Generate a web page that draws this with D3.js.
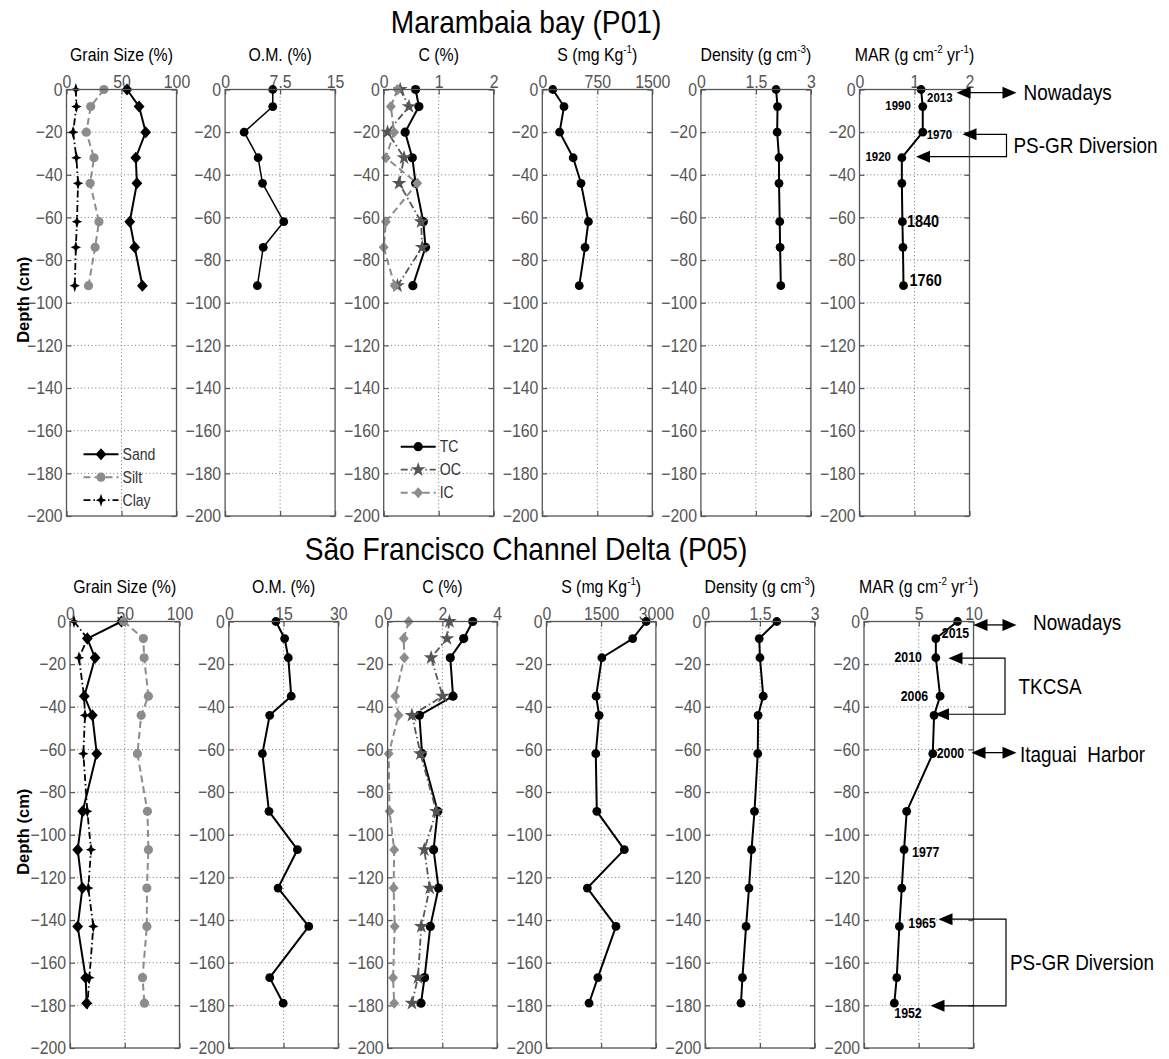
<!DOCTYPE html>
<html>
<head>
<meta charset="utf-8">
<script src="https://cdn.jsdelivr.net/npm/d3@7"></script>
<style>
  body { margin: 0; background: #fff; }
  svg { display: block; }
  text { font-family: "Liberation Sans", Arial, Helvetica, sans-serif; }
</style>
</head>
<body>
<svg id="fig" width="1169" height="1059"></svg>
<script>
// ---------------- data ----------------
const depthTicks = [0, -20, -40, -60, -80, -100, -120, -140, -160, -180, -200];

// Marambaia bay (P01)
const p01Depth   = [0, -8, -20, -32, -44, -62, -74, -92];
const p01Sand    = [55, 66, 72, 63, 64, 57.5, 62, 69];
const p01Silt    = [34, 22, 18, 25, 21.5, 29.5, 26, 20];
const p01Clay    = [8.5, 9, 6, 9, 10.5, 9.5, 8.5, 7.5];
const p01OM      = [6.5, 6.5, 2.6, 4.5, 5.1, 8.0, 5.2, 4.4];
const p01TC      = [0.58, 0.64, 0.39, 0.52, 0.58, 0.72, 0.76, 0.53];
const p01OC      = [0.30, 0.46, 0.07, 0.37, 0.28, 0.68, 0.70, 0.25];
const p01IC      = [0.25, 0.13, 0.19, 0.04, 0.61, 0.04, 0.00, 0.20];
const p01S       = [143, 296, 236, 421, 528, 629, 583, 504];
const p01Density = [2.05, 2.09, 2.08, 2.13, 2.13, 2.15, 2.16, 2.18];
const p01MAR     = [1.12, 1.15, 1.15, 0.77, 0.77, 0.78, 0.79, 0.80];
const p01Years   = ["2013", "1990", "1970", "1920", "1840", "1760"];
const p01YearAt  = [0, 1, 2, 3, 5, 7];

// São Francisco Channel Delta (P05)
const p05Depth   = [0, -8, -17, -35, -44, -62, -89, -107, -125, -143, -167, -179];
const p05Sand    = [47, 15.8, 22.9, 13.1, 20.4, 24.4, 11.6, 7, 11.3, 7, 14.3, 15.2];
const p05Silt    = [49, 67, 67.7, 71.6, 65, 61.6, 70.7, 71.6, 70.2, 70.2, 66.2, 68];
const p05Clay    = [3.7, 16, 8.2, 12.8, 13.7, 12.2, 15.8, 19.2, 16.7, 21.3, 17.7, 16];
const p05OM      = [12.9, 15.3, 16.3, 17.1, 11.2, 9.2, 11.0, 18.8, 13.5, 21.9, 11.2, 14.9];
const p05TC      = [3.11, 2.78, 2.29, 2.39, 1.16, 1.26, 1.83, 1.68, 1.86, 1.56, 1.35, 1.22];
const p05OC      = [2.26, 2.17, 1.59, 2.01, 0.89, 1.20, 1.78, 1.34, 1.54, 1.23, 1.11, 0.89];
const p05IC      = [0.77, 0.59, 0.61, 0.28, 0.40, 0.04, 0.07, 0.24, 0.22, 0.26, 0.20, 0.24];
const p05S       = [2735, 2365, 1519, 1362, 1445, 1353, 1381, 2135, 1122, 1906, 1409, 1168];
const p05Density = [1.96, 1.48, 1.50, 1.59, 1.45, 1.44, 1.35, 1.27, 1.20, 1.12, 1.02, 0.98];
const p05MAR     = [8.54, 6.56, 6.56, 6.95, 6.40, 6.28, 3.90, 3.66, 3.45, 3.23, 2.99, 2.77];
const p05Years   = ["2015", "2010", "2006", "2000", "1977", "1965", "1952"];
const p05YearAt  = [1, 2, 3, 5, 7, 9, 11];

// x-axis tick labels of each panel
const p01XTicks = [["0", "50", "100"], ["0", "7.5", "15"], ["0", "1", "2"],
                   ["0", "750", "1500"], ["0", "1.5", "3"], ["0", "1", "2"]];
const p05XTicks = [["0", "50", "100"], ["0", "15", "30"], ["0", "2", "4"],
                   ["0", "1500", "3000"], ["0", "1.5", "3"], ["0", "5", "10"]];

// panel titles (text pieces, "sup" marks a superscript)
const panelTitles = [
  [["Grain Size (%)"]],
  [["O.M. (%)"]],
  [["C (%)"]],
  [["S (mg Kg"], ["-1", "sup"], [")"]],
  [["Density (g cm"], ["-3", "sup"], [")"]],
  [["MAR (g cm"], ["-2", "sup"], [" yr"], ["-1", "sup"], [")"]]
];

// ---------------- layout / styles ----------------
const SX = 0.88;               // horizontal squeeze of the lettering
const svg = d3.select("#fig");

const rows = {
  p01: { left: 66.5, step: 158.6, width: 110, top: 89.5, bottom: 516, titleY: 33, panelTitleY: 61 },
  p05: { left: 70, step: 158.8, width: 109.5, top: 621.5, bottom: 1048, titleY: 560, panelTitleY: 593 }
};

const styles = {
  sand:  { stroke: "#000", width: 2,   dash: null,          marker: "diamond", fill: "#000", ms: 6 },
  silt:  { stroke: "#8c8c8c", width: 2, dash: "7,4",        marker: "dot",     fill: "#8c8c8c", ms: 4.6 },
  clay:  { stroke: "#000", width: 1.8, dash: "7,3,1.5,3",   marker: "star4",   fill: "#000", ms: 6.5 },
  tc:    { stroke: "#000", width: 2,   dash: null,          marker: "dot",     fill: "#000", ms: 4.6 },
  oc:    { stroke: "#555", width: 1.8, dash: "7,3,1.5,3",   marker: "star5",   fill: "#555", ms: 6.5 },
  ic:    { stroke: "#8c8c8c", width: 2, dash: "7,4",        marker: "diamond", fill: "#8c8c8c", ms: 5.5 },
  solid: { stroke: "#000", width: 2,   dash: null,          marker: "dot",     fill: "#000", ms: 4.4 },
  thin:  { stroke: "#000", width: 1.5, dash: null,          marker: "dot",     fill: "#000", ms: 4.4 }
};

// ---------------- helpers ----------------
function label(parent, x, y, pieces, o = {}) {
  const size = o.size || 18;
  const g = parent.append("g")
    .attr("transform", `translate(${x},${y}) scale(${o.sx ?? SX},1)`);
  const t = g.append("text")
    .attr("text-anchor", o.anchor || "start")
    .attr("font-size", size)
    .attr("font-weight", o.weight || "normal")
    .attr("fill", o.fill || "#000");
  if (o.pre) t.style("white-space", "pre");
  if (typeof pieces === "string") { t.text(pieces); return t; }
  let raised = false;
  pieces.forEach(([s, kind]) => {
    const sp = t.append("tspan").text(s);
    if (kind === "sup") {
      sp.attr("font-size", size * 0.62).attr("dy", -size * 0.42);
      raised = true;
    } else if (raised) {
      sp.attr("dy", size * 0.42);
      raised = false;
    }
  });
  return t;
}

function markerPath(kind, r) {
  if (kind === "diamond") {
    return `M0,${-r}L${r * 0.9},0L0,${r}L${-r * 0.9},0Z`;
  }
  if (kind === "star4") {
    const pts = [];
    for (let i = 0; i < 8; i++) {
      const a = i * Math.PI / 4 - Math.PI / 2;
      const rr = i % 2 ? r * 0.35 : r;
      pts.push([rr * Math.cos(a) * (i % 4 === 2 ? 0.8 : 1), rr * Math.sin(a)]);
    }
    return "M" + pts.map(p => p.join(",")).join("L") + "Z";
  }
  if (kind === "star5") {
    return d3.symbol(d3.symbolStar, r * r * 1.6)();
  }
  return null;
}

function drawMarker(g, kind, cx, cy, r, fill) {
  if (kind === "dot") {
    g.append("circle").attr("cx", cx).attr("cy", cy).attr("r", r).attr("fill", fill);
  } else {
    g.append("path").attr("d", markerPath(kind, r))
      .attr("transform", `translate(${cx},${cy})`).attr("fill", fill);
  }
}

function drawSeries(g, x, y, depth, values, st) {
  const pts = depth.map((d, i) => ({ d, v: values[i] }));
  const line = d3.line().x(p => x(p.v)).y(p => y(p.d));
  g.append("path").datum(pts).attr("d", line)
    .attr("fill", "none").attr("stroke", st.stroke).attr("stroke-width", st.width)
    .attr("stroke-dasharray", st.dash).attr("stroke-linejoin", "round");
  pts.forEach(p => drawMarker(g, st.marker, x(p.v), y(p.d), st.ms, st.fill));
}

function arrowHead(g, tx, ty, dir) {
  // dir = -1 : points to the left, +1 : points to the right
  const L = 14, W = 6;
  g.append("path")
    .attr("d", `M${tx},${ty}L${tx - dir * L},${ty - W}L${tx - dir * L},${ty + W}Z`)
    .attr("fill", "#000");
}

function doubleArrow(g, xa, xb, yy) {
  g.append("line").attr("x1", xa + 10).attr("x2", xb - 10).attr("y1", yy).attr("y2", yy)
    .attr("stroke", "#000").attr("stroke-width", 1.3);
  arrowHead(g, xa, yy, -1);
  arrowHead(g, xb, yy, 1);
}

function bracket(g, xr, ya, tipA, yb, tipB) {
  g.append("path")
    .attr("d", `M${tipA + 10},${ya}H${xr}V${yb}H${tipB + 10}`)
    .attr("fill", "none").attr("stroke", "#000").attr("stroke-width", 1.2);
  arrowHead(g, tipA, ya, -1);
  arrowHead(g, tipB, yb, -1);
}

// ---------------- panels ----------------
function drawRow(rowKey, title, xTicks, series) {
  const R = rows[rowKey];
  const y = d3.scaleLinear().domain([0, -200]).range([R.top, R.bottom]);
  const layer = svg.append("g");
  const panels = [];

  label(layer, 526, R.titleY, title, { size: 32, anchor: "middle" });

  for (let c = 0; c < 6; c++) {
    const x0 = R.left + c * R.step, x1 = x0 + R.width;
    const xmax = +xTicks[c][2];
    const x = d3.scaleLinear().domain([0, xmax]).range([x0, x1]);
    const xTickVals = xTicks[c].map(Number);
    const g = layer.append("g");

    // dotted grid
    g.selectAll(".hgrid").data(depthTicks.slice(1, -1)).join("line")
      .attr("x1", x0).attr("x2", x1).attr("y1", d => y(d)).attr("y2", d => y(d))
      .attr("stroke", "#777").attr("stroke-width", 1).attr("stroke-dasharray", "1,2.6");
    g.append("line")
      .attr("x1", x(xTickVals[1])).attr("x2", x(xTickVals[1]))
      .attr("y1", R.top).attr("y2", R.bottom)
      .attr("stroke", "#777").attr("stroke-width", 1).attr("stroke-dasharray", "1,2.6");

    // axes with inward ticks
    const left = d3.axisLeft(y).tickValues(depthTicks).tickFormat(d3.format("d"))
      .tickSizeInner(-5).tickSizeOuter(0).tickPadding(4.5);
    const right = d3.axisRight(y).tickValues(depthTicks).tickFormat("")
      .tickSizeInner(-5).tickSizeOuter(0);
    const top = d3.axisTop(x).tickValues(xTickVals).tickFormat((d, i) => xTicks[c][i])
      .tickSizeInner(-5).tickSizeOuter(0).tickPadding(2);
    const bottom = d3.axisBottom(x).tickValues(xTickVals).tickFormat("")
      .tickSizeInner(-5).tickSizeOuter(0);

    const axL = g.append("g").attr("transform", `translate(${x0},0)`).call(left);
    const axR = g.append("g").attr("transform", `translate(${x1},0)`).call(right);
    const axT = g.append("g").attr("transform", `translate(0,${R.top})`).call(top);
    const axB = g.append("g").attr("transform", `translate(0,${R.bottom})`).call(bottom);
    [axL, axR, axT, axB].forEach(a => {
      a.select(".domain").remove();
      a.selectAll("line").attr("stroke", "#555").attr("stroke-width", 1.2);
      a.selectAll("text")
        .attr("font-family", '"Liberation Sans", Arial, sans-serif')
        .attr("font-size", 18).attr("fill", "#555");
    });
    axL.selectAll("text").attr("transform", `scale(${SX},1)`);
    axT.selectAll("text").attr("transform", `scale(${SX},1)`);

    // panel title
    label(layer, (x0 + x1) / 2, R.panelTitleY, panelTitles[c], { size: 18, anchor: "middle" });

    panels.push({ g, x, y, x0, x1 });
  }

  // series
  series.forEach(([col, values, st]) => {
    const P = panels[col];
    drawSeries(P.g, P.x, P.y, series.depth, values, st);
  });

  // frames on top
  panels.forEach(P => {
    P.g.append("rect").attr("x", P.x0).attr("y", R.top)
      .attr("width", P.x1 - P.x0).attr("height", R.bottom - R.top)
      .attr("fill", "none").attr("stroke", "#555").attr("stroke-width", 1.3);
  });

  // depth axis title
  const gy = layer.append("g")
    .attr("transform", `translate(23,${(R.top + R.bottom) / 2 - 3}) rotate(-90)`);
  gy.append("text").attr("text-anchor", "middle").attr("dominant-baseline", "central")
    .attr("font-size", 16.5).attr("font-weight", "bold").text("Depth (cm)");

  return { panels, y, R };
}

function legend(P, R, items, firstDepth) {
  const lx0 = P.x0 + 17, lx1 = P.x0 + 52;
  items.forEach(([name, st], i) => {
    const yy = P.y(firstDepth) + i * 23;
    P.g.append("line").attr("x1", lx0).attr("x2", lx1).attr("y1", yy).attr("y2", yy)
      .attr("stroke", st.stroke).attr("stroke-width", st.width).attr("stroke-dasharray", st.dash);
    drawMarker(P.g, st.marker, (lx0 + lx1) / 2, yy, st.ms, st.fill);
    label(P.g, lx1 + 4, yy + 5.5, name, { size: 16, fill: "#333" });
  });
}

function yearLabels(P, depth, values, years, at, offsets) {
  years.forEach((yr, i) => {
    const k = at[i], o = offsets[i];
    label(P.g, P.x(values[k]) + o[0], P.y(depth[k]) + o[1], yr,
      { size: o[3], anchor: o[2], weight: "bold" });
  });
}

// ---------- Marambaia bay (P01) ----------
const s01 = [
  [0, p01Sand, styles.sand], [0, p01Silt, styles.silt], [0, p01Clay, styles.clay],
  [1, p01OM, styles.thin],
  [2, p01TC, styles.tc], [2, p01OC, styles.oc], [2, p01IC, styles.ic],
  [3, p01S, styles.solid], [4, p01Density, styles.solid], [5, p01MAR, styles.solid]
];
s01.depth = p01Depth;
const r01 = drawRow("p01", "Marambaia bay (P01)", p01XTicks, s01);
legend(r01.panels[0], r01.R, [["Sand", styles.sand], ["Silt", styles.silt], ["Clay", styles.clay]], -171);
legend(r01.panels[2], r01.R, [["TC", styles.tc], ["OC", styles.oc], ["IC", styles.ic]], -167.5);
yearLabels(r01.panels[5], p01Depth, p01MAR, p01Years, p01YearAt, [
  [6, 12, "start", 13], [-12, 3.5, "end", 13], [4, 7, "start", 13],
  [-11, 3.5, "end", 13], [4.5, 5.5, "start", 16.5], [6, 0.5, "start", 16.5]
]);

// ---------- São Francisco Channel Delta (P05) ----------
const s05 = [
  [0, p05Sand, styles.sand], [0, p05Silt, styles.silt], [0, p05Clay, styles.clay],
  [1, p05OM, styles.solid],
  [2, p05TC, styles.tc], [2, p05OC, styles.oc], [2, p05IC, styles.ic],
  [3, p05S, styles.solid], [4, p05Density, styles.solid], [5, p05MAR, styles.solid]
];
s05.depth = p05Depth;
const r05 = drawRow("p05", "São Francisco Channel Delta (P05)", p05XTicks, s05);
yearLabels(r05.panels[5], p05Depth, p05MAR, p05Years, p05YearAt, [
  [6, -1, "start", 14], [-14, 4, "end", 14], [-12, 5, "end", 14],
  [4, 4.5, "start", 14], [8, 7, "start", 14], [9, 2, "start", 14], [0, 15, "start", 14]
]);

// ---------------- annotations ----------------
const ann = svg.append("g");
{
  const P = r01.panels[5], y = r01.y, fr = P.x1;
  doubleArrow(ann, fr - 13, fr + 47, y(-1.5));
  label(ann, fr + 54, y(-1.5) + 7.5, "Nowadays", { size: 21.5 });
  bracket(ann, fr + 37, y(-21), fr - 7, y(-31.5), fr - 53.5);
  label(ann, fr + 44, y(-26.2) + 7.5, "PS-GR Diversion", { size: 21.5 });
}
{
  const P = r05.panels[5], y = r05.y, fr = P.x1;
  doubleArrow(ann, fr, fr + 43, y(-1.6));
  label(ann, fr + 59.5, y(-1.6) + 5.5, "Nowadays", { size: 21.5 });
  bracket(ann, fr + 31.5, y(-17.2), fr - 25, y(-43.5), fr - 38.5);
  label(ann, fr + 45, y(-30.4) + 7.5, "TKCSA", { size: 21.5 });
  doubleArrow(ann, fr - 2, fr + 43, y(-61.5));
  label(ann, fr + 46.5, y(-61.5) + 9, "Itaguai  Harbor", { size: 21.5, pre: true });
  bracket(ann, fr + 32.5, y(-139.6), fr - 35, y(-180.2), fr - 43);
  label(ann, fr + 36.5, y(-160) + 7.5, "PS-GR Diversion", { size: 21.5 });
}
</script>
</body>
</html>
